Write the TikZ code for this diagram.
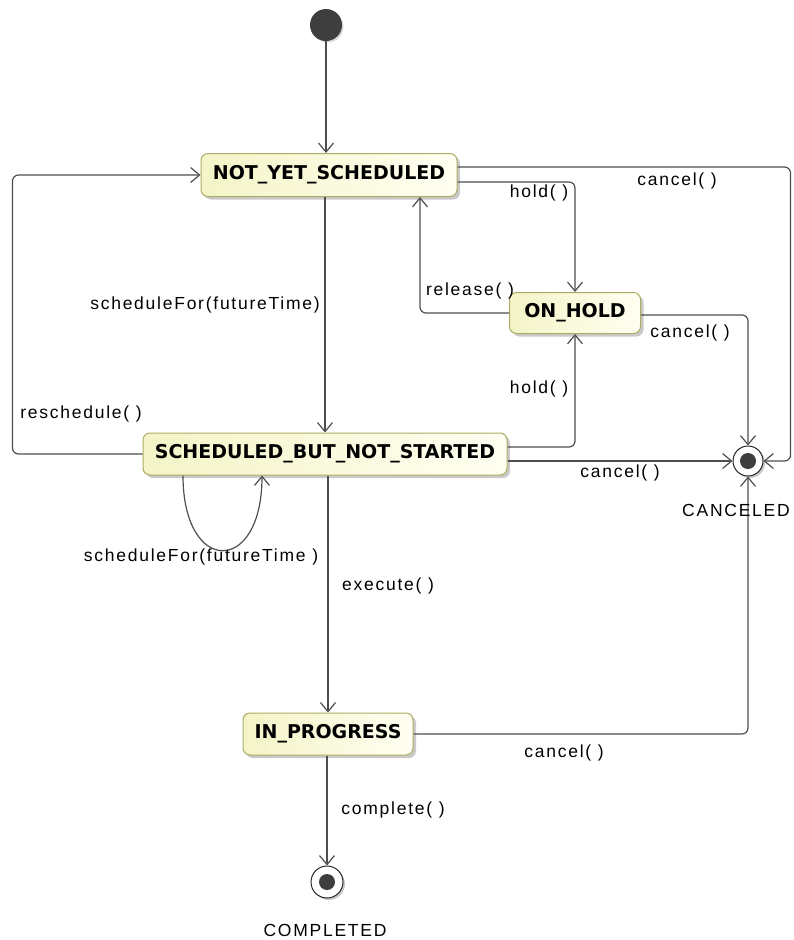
\documentclass[tikz,border=0pt]{standalone}
\usepackage{fontspec}
\setmainfont{Liberation Sans}
\newfontfamily\statefont[BoldFont={DejaVu Sans Bold}]{DejaVu Sans}
\newfontfamily\lblfont[LetterSpace=10]{Liberation Sans}
\usetikzlibrary{arrows.meta,shadows}

\definecolor{edge}{RGB}{78,78,78}
\definecolor{stborder}{RGB}{172,172,100}
\definecolor{stleft}{RGB}{244,244,200}
\definecolor{stright}{RGB}{255,255,242}
\definecolor{dotfill}{RGB}{62,62,62}

\tikzset{
  state/.style={rectangle, rounded corners=7pt, draw=stborder, line width=1pt,
    left color=stleft, right color=stright, inner sep=0pt,
    font=\statefont\bfseries\fontsize{19}{21}\selectfont,
    drop shadow={shadow xshift=3pt, shadow yshift=-3pt, fill=black!35, opacity=0.6}},
  initstate/.style={circle, fill=dotfill, draw=none, minimum size=32pt, inner sep=0pt,
    drop shadow={shadow xshift=1.5pt, shadow yshift=-1.5pt, fill=black!30, opacity=0.5}},
  finalstate/.style={circle, draw=black!85, line width=1pt, fill=white,
    minimum size=30pt, inner sep=0pt,
    drop shadow={shadow xshift=2pt, shadow yshift=-2pt, fill=black!35, opacity=0.6},
    path picture={\fill[dotfill] (path picture bounding box.center) circle (8pt);}},
  trans/.style={draw=edge, line width=1.2pt, rounded corners=6pt,
    -{Straight Barb[length=9pt,width=15pt,line width=1.2pt]}},
  lbl/.style={font=\lblfont\fontsize{17.5}{19}\selectfont, inner sep=0pt, text=black},
}

\begin{document}
\begin{tikzpicture}[x=1pt,y=-1pt]
\useasboundingbox (0,0) rectangle (794,940);

% states
\node[initstate] (init) at (326,25) {};
\node[state, minimum width=256pt, minimum height=43pt] (nys) at (329,175) {NOT\_YET\_SCHEDULED};
\node[state, minimum width=131pt, minimum height=41pt] (hold) at (575,313) {ON\_HOLD};
\node[state, minimum width=364pt, minimum height=42pt] (sbns) at (325,454) {SCHEDULED\_BUT\_NOT\_STARTED};
\node[state, minimum width=170pt, minimum height=42pt] (prog) at (328,734) {IN\_PROGRESS};
\node[finalstate] (canc) at (748,461) {};
\node[finalstate, minimum size=32pt] (comp) at (327,882) {};

% transitions
\draw[trans] (init.south) -- (init.south |- nys.north);
\draw[trans] ([yshift=8pt]nys.east) -| ([xshift=27pt]canc.east) |- (canc.east);
\draw[trans] ([yshift=-7pt]nys.east) -| (hold.north);
\draw[trans] (hold.west) -| ([xshift=91pt]nys.south);
\draw[trans] ([yshift=-2pt]hold.east) -| (canc.north);
\draw[trans] (sbns.north |- nys.south) -- (sbns.north);
\draw[trans] ([yshift=7pt]sbns.east) -| (hold.south);
\draw[trans] (sbns.east |- canc.west) -- (canc.west);
\draw[trans] (sbns.west) -| ([xshift=-188pt]nys.west) -- (nys.west);
\draw[trans, rounded corners=0pt] ([xshift=-142pt]sbns.south) .. controls +(0,100) and +(0,100) .. ([xshift=-63pt]sbns.south);
\draw[trans] (prog.north |- sbns.south) -- (prog.north);
\draw[trans] (prog.east) -| (canc.south);
\draw[trans] (comp.north |- prog.south) -- (comp.north);

% transition labels
\node[lbl] at (677,181) {cancel( )};
\node[lbl] at (539,193) {hold( )};
\node[lbl] at (470,291) {release( )};
\node[lbl] at (205,305) {scheduleFor(futureTime)};
\node[lbl] at (690,333) {cancel( )};
\node[lbl] at (539,389) {hold( )};
\node[lbl] at (81,414) {reschedule( )};
\node[lbl] at (620,473) {cancel( )};
\node[lbl] at (201,557) {scheduleFor(futureTime )};
\node[lbl] at (388,586) {execute( )};
\node[lbl] at (564,753) {cancel( )};
\node[lbl] at (393,810) {complete( )};

% final state names
\node[lbl] at (736,510) {CANCELED};
\node[lbl] at (325,930) {COMPLETED};
\end{tikzpicture}
\end{document}
